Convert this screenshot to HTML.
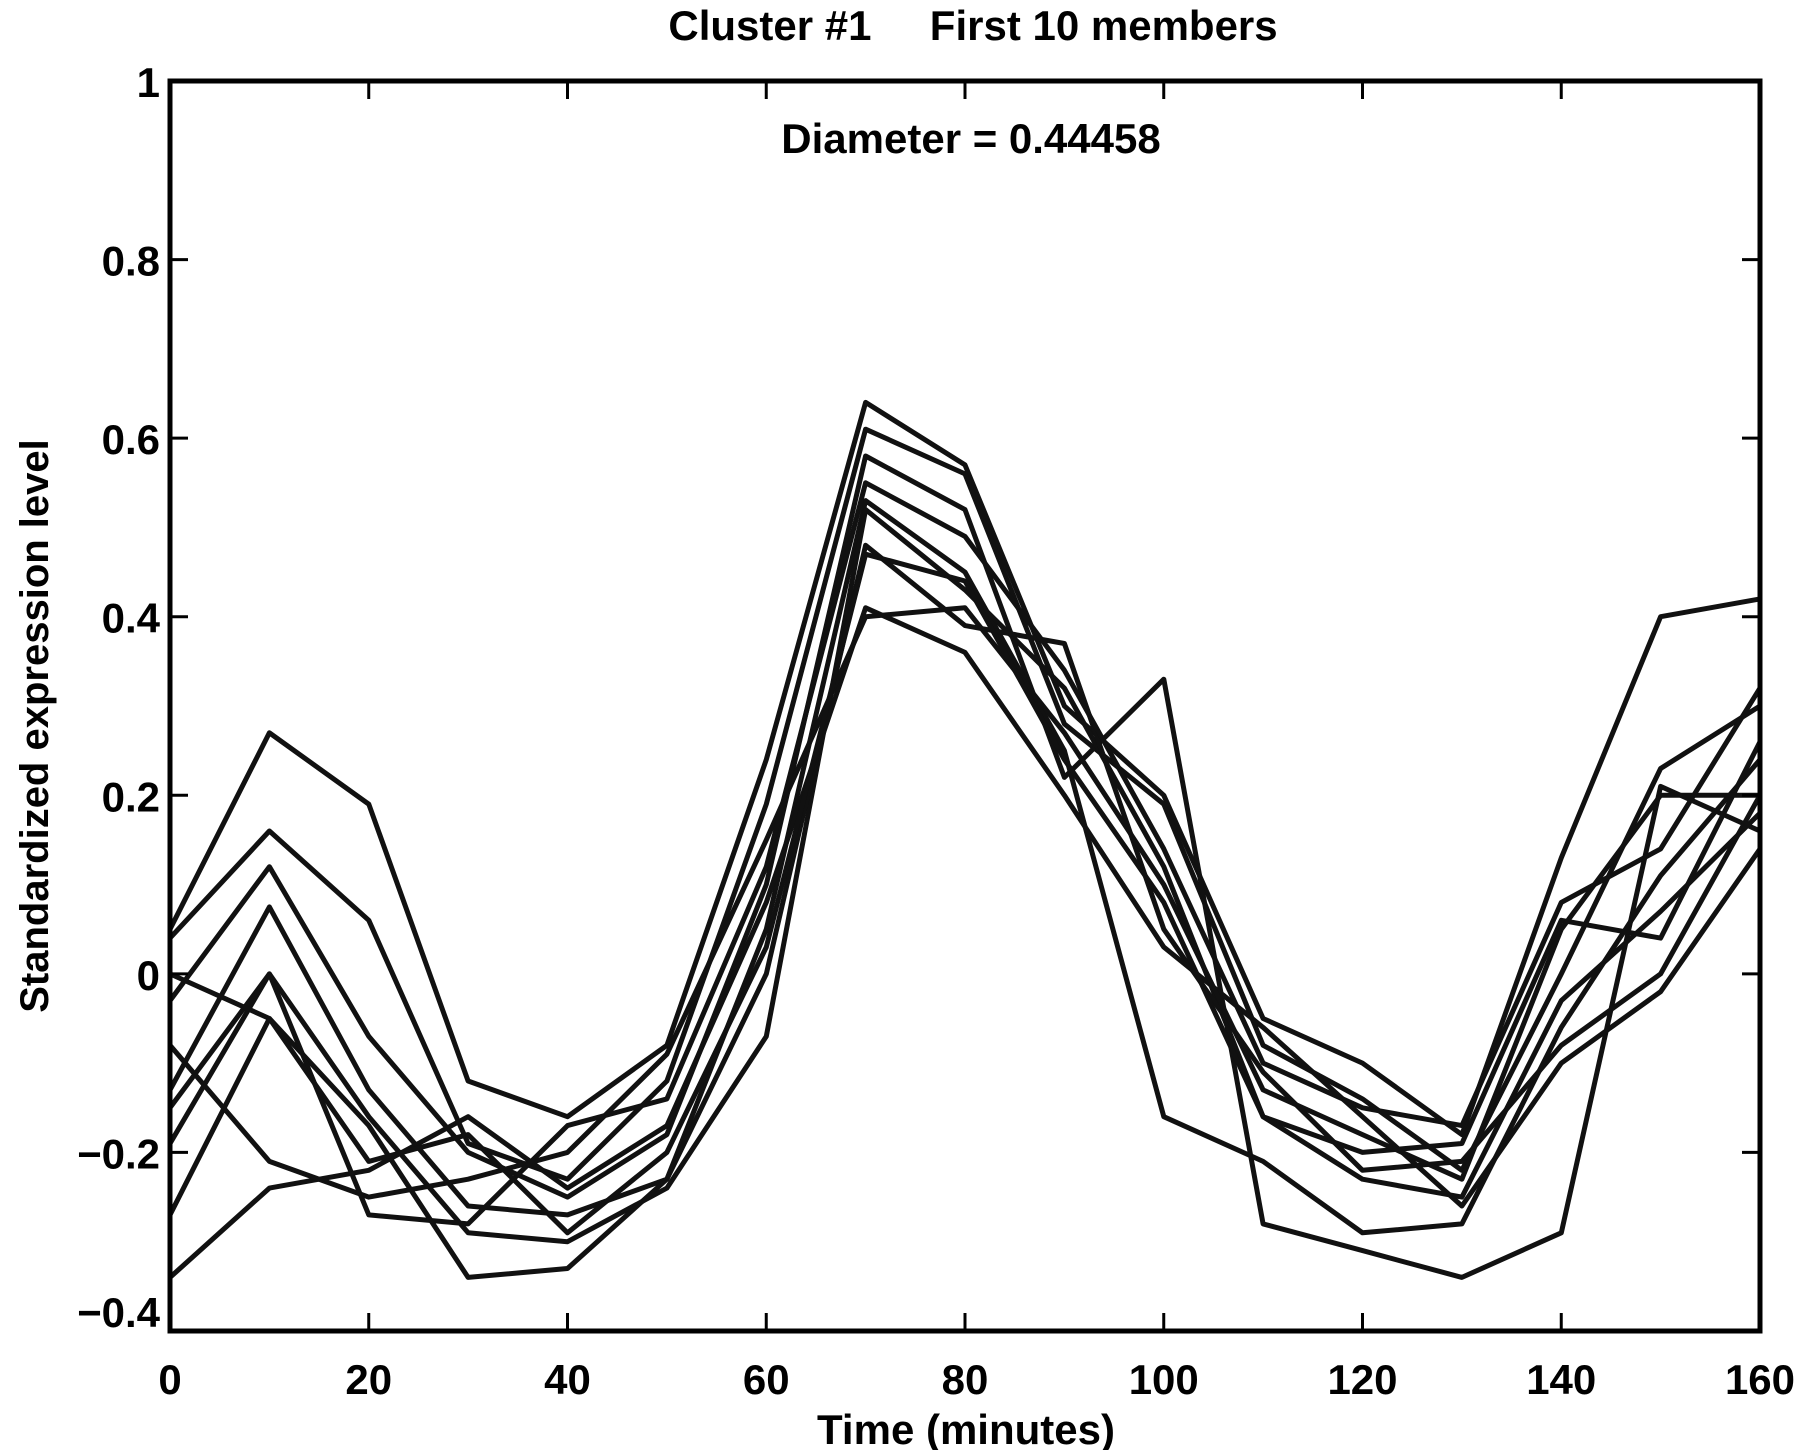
<!DOCTYPE html>
<html><head><meta charset="utf-8"><style>
html,body{margin:0;padding:0;background:#fff;}
svg{display:block;}
text{font-family:"Liberation Sans",sans-serif;font-weight:bold;fill:#000;}
</style></head><body>
<svg id="chart" width="1800" height="1450" viewBox="0 0 1800 1450">
<g id="lines"></g>
<g id="axes"></g>
<text x="973" y="40" font-size="42" text-anchor="middle">Cluster #1&#160;&#160;&#160;&#160;&#160;First 10 members</text>
<text x="971" y="153" font-size="42" text-anchor="middle">Diameter = 0.44458</text>
<text x="966" y="1444" font-size="42" text-anchor="middle">Time (minutes)</text>
<text x="0" y="0" font-size="40" text-anchor="middle" transform="translate(48,726) rotate(-90)">Standardized expression level</text>
</svg>
<script>
const times=[0,10,20,30,40,50,60,70,80,90,100,110,120,130,140,150,160];
const s1=[0.05,0.27,0.19,-0.12,-0.16,-0.08,0.24,0.64,0.57,0.30,0.20,-0.05,-0.10,-0.18,0.13,0.40,0.42];
const s2=[0.04,0.16,0.06,-0.19,-0.23,-0.12,0.19,0.61,0.56,0.28,0.19,-0.08,-0.14,-0.22,0.00,0.23,0.30];
const s3=[-0.03,0.12,-0.07,-0.20,-0.25,-0.18,0.10,0.58,0.52,0.22,0.33,-0.28,-0.31,-0.34,-0.29,0.21,0.16];
const s4=[-0.13,0.075,-0.13,-0.26,-0.27,-0.23,0.05,0.53,0.45,0.25,-0.16,-0.21,-0.29,-0.28,-0.06,0.11,0.24];
const s5=[-0.19,0.0,-0.16,-0.29,-0.30,-0.24,-0.07,0.52,0.43,0.32,0.12,-0.16,-0.20,-0.19,0.06,0.04,0.26];
const s6=[-0.27,-0.05,-0.17,-0.34,-0.33,-0.23,0.00,0.48,0.39,0.37,0.05,-0.11,-0.22,-0.21,-0.08,0.00,0.20];
const s7=[-0.34,-0.24,-0.22,-0.16,-0.24,-0.17,0.08,0.41,0.36,0.20,0.03,-0.06,-0.16,-0.26,-0.10,-0.02,0.14];
const s8=[-0.08,-0.21,-0.25,-0.23,-0.20,-0.09,0.15,0.40,0.41,0.27,0.10,-0.13,-0.18,-0.23,0.05,0.20,0.20];
const s9=[-0.15,0.0,-0.27,-0.28,-0.17,-0.14,0.12,0.55,0.49,0.34,0.14,-0.10,-0.15,-0.17,0.08,0.14,0.32];
const s10=[0.0,-0.05,-0.21,-0.18,-0.29,-0.20,0.03,0.47,0.44,0.24,0.08,-0.16,-0.23,-0.25,-0.03,0.07,0.18];
const series=[s1,s2,s3,s4,s5,s6,s7,s8,s9,s10];
const xTicks=[0,20,40,60,80,100,120,140,160];
const xTickLabels=["0","20","40","60","80","100","120","140","160"];
const yTicks=[-0.4,-0.2,0,0.2,0.4,0.6,0.8,1];
const yTickLabels=["\u22120.4","\u22120.2","0","0.2","0.4","0.6","0.8","1"];

const L=170,R=1760,T=81,B=1331;
const xS=v=>L+(v-0)/(160-0)*(R-L);
const yS=v=>B-(v+0.4)/1.4*(B-T);
const NS="http://www.w3.org/2000/svg";
const lines=document.getElementById('lines'),axes=document.getElementById('axes');
series.forEach((s,i)=>{
  const p=document.createElementNS(NS,'polyline');
  p.setAttribute('points',s.map((v,j)=>xS(times[j]).toFixed(1)+','+yS(v).toFixed(1)).join(' '));
  p.setAttribute('fill','none');p.setAttribute('stroke','#111');p.setAttribute('stroke-width','5');p.setAttribute('stroke-linejoin','round');
  
  
  lines.appendChild(p);
});
const frame=document.createElementNS(NS,'rect');
frame.setAttribute('x',L);frame.setAttribute('y',T);frame.setAttribute('width',R-L);frame.setAttribute('height',B-T);
frame.setAttribute('fill','none');frame.setAttribute('stroke','#000');frame.setAttribute('stroke-width','5');


axes.appendChild(frame);
function ln(x1,y1,x2,y2,name){const l=document.createElementNS(NS,'line');l.setAttribute('x1',x1);l.setAttribute('y1',y1);l.setAttribute('x2',x2);l.setAttribute('y2',y2);l.setAttribute('stroke','#000');l.setAttribute('stroke-width','3');


axes.appendChild(l);}
function tx(x,y,str,anchor,name){const t=document.createElementNS(NS,'text');t.setAttribute('x',x);t.setAttribute('y',y);t.setAttribute('font-size','42');t.setAttribute('text-anchor',anchor);t.textContent=str;


axes.appendChild(t);}
xTicks.forEach((v,i)=>{const x=xS(v);ln(x,B,x,B-18,'x-tick');ln(x,T,x,T+18,'x-tick-top');tx(x,1394,xTickLabels[i],'middle','x-tick-label');});
yTicks.forEach((v,i)=>{const y=yS(v);ln(L,y,L+18,y,'y-tick');ln(R,y,R-18,y,'y-tick-right');tx(160,y+(v===-0.4?-4:16),yTickLabels[i],'end','y-tick-label');});
</script>
</body></html>
